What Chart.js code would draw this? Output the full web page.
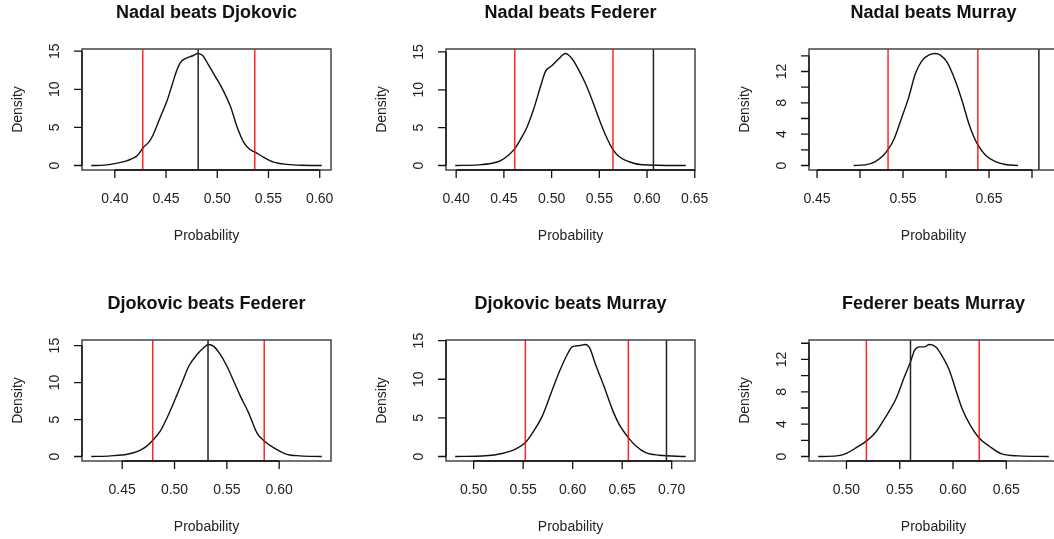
<!DOCTYPE html>
<html>
<head>
<meta charset="utf-8">
<script src="https://cdn.jsdelivr.net/npm/chart.js@4/dist/chart.umd.min.js"></script>
<style>
  html, body { margin: 0; padding: 0; background: #fff; }
  body { width: 1054px; height: 539px; overflow: hidden; position: relative; }
  .panel { position: absolute; width: 363px; height: 291px; }
</style>
</head>
<body>
<div id="grid"></div>
<script>
// Titles, one per matchup
const titles = [
  'Nadal beats Djokovic', 'Nadal beats Federer', 'Nadal beats Murray',
  'Djokovic beats Federer', 'Djokovic beats Murray', 'Federer beats Murray'
];

// Posterior density of the win probability, sampled along each curve
const nadalDjokovicX = [0.377, 0.390, 0.400, 0.410, 0.417, 0.422, 0.428, 0.434, 0.438, 0.4446, 0.451, 0.456, 0.460, 0.464, 0.470, 0.476, 0.481, 0.486, 0.491, 0.498, 0.506, 0.513, 0.519, 0.526, 0.532, 0.537, 0.545, 0.555, 0.568, 0.582, 0.602];
const nadalDjokovicY = [0, 0.05, 0.25, 0.55, 0.9, 1.3, 2.4, 3.2, 4.2, 6.4, 8.5, 10.6, 12.3, 13.5, 14.1, 14.4, 14.7, 14.4, 13.3, 11.7, 9.8, 7.7, 5.2, 3.0, 2.1, 1.75, 1.1, 0.45, 0.15, 0.03, 0];

const nadalFedererX = [0.399, 0.4235, 0.4375, 0.446, 0.455, 0.4613, 0.4672, 0.4743, 0.4813, 0.4883, 0.4935, 0.5005, 0.5075, 0.5145, 0.5215, 0.5285, 0.5356, 0.5426, 0.5496, 0.5566, 0.5643, 0.5706, 0.5811, 0.595, 0.6406];
const nadalFedererY = [0, 0.09, 0.3, 0.6, 1.4, 2.2, 3.4, 5.1, 7.5, 10.4, 12.4, 13.2, 14.1, 14.8, 14.1, 12.6, 10.8, 8.6, 6.2, 4.0, 2.1, 1.2, 0.5, 0.1, 0];

const nadalMurrayX = [0.4926, 0.5062, 0.5178, 0.5275, 0.5322, 0.5391, 0.5488, 0.5566, 0.5643, 0.5721, 0.5798, 0.5876, 0.5934, 0.6012, 0.6109, 0.6186, 0.6264, 0.6322, 0.6372, 0.6457, 0.6574, 0.669, 0.6837];
const nadalMurrayY = [0, 0.08, 0.5, 1.35, 2.0, 3.25, 6.2, 8.7, 11.7, 13.4, 14.1, 14.3, 14.1, 13.2, 10.8, 8.3, 5.4, 3.7, 2.6, 1.35, 0.5, 0.13, 0];

const djokovicFedererX = [0.4204, 0.4389, 0.4548, 0.4659, 0.4738, 0.4792, 0.4865, 0.4929, 0.4993, 0.5072, 0.5136, 0.5215, 0.5279, 0.5326, 0.5374, 0.5437, 0.5501, 0.5565, 0.5628, 0.5708, 0.5787, 0.5857, 0.5946, 0.6073, 0.620, 0.6407];
const djokovicFedererY = [0, 0.09, 0.3, 0.76, 1.44, 2.2, 3.46, 5.25, 7.3, 10.0, 12.2, 13.8, 14.7, 15.15, 14.9, 13.8, 12.2, 10.2, 8.2, 5.9, 3.2, 2.1, 1.2, 0.3, 0.09, 0];

const djokovicMurrayX = [0.4814, 0.5118, 0.5287, 0.5422, 0.5523, 0.5607, 0.5692, 0.5776, 0.586, 0.5945, 0.5995, 0.6063, 0.613, 0.6171, 0.6231, 0.6316, 0.640, 0.6468, 0.6562, 0.6636, 0.6738, 0.6872, 0.7142];
const djokovicMurrayY = [0, 0.09, 0.39, 0.95, 1.8, 3.3, 5.2, 8.0, 10.8, 13.2, 14.2, 14.35, 14.5, 14.05, 11.9, 9.1, 6.1, 4.2, 2.45, 1.4, 0.5, 0.17, 0];

const federerMurrayX = [0.4735, 0.4907, 0.500, 0.5093, 0.5187, 0.528, 0.5373, 0.5467, 0.5545, 0.5601, 0.5638, 0.5685, 0.5731, 0.5778, 0.584, 0.5903, 0.5965, 0.6027, 0.6089, 0.6167, 0.6245, 0.6338, 0.6463, 0.6618, 0.6899];
const federerMurrayY = [0, 0.08, 0.4, 1.1, 1.9, 3.1, 5.0, 7.2, 9.9, 11.7, 13.1, 13.55, 13.55, 13.85, 13.55, 12.3, 10.7, 8.2, 5.8, 3.75, 2.3, 1.3, 0.29, 0.08, 0];

const curvesX = [nadalDjokovicX, nadalFedererX, nadalMurrayX, djokovicFedererX, djokovicMurrayX, federerMurrayX];
const curvesY = [nadalDjokovicY, nadalFedererY, nadalMurrayY, djokovicFedererY, djokovicMurrayY, federerMurrayY];

// 95% interval (red) and observed share (black)
const lowerBound = [0.4273, 0.4614, 0.5326, 0.4792, 0.5522, 0.5187];
const upperBound = [0.5366, 0.5643, 0.6370, 0.5857, 0.6562, 0.6246];
const observed   = [0.4814, 0.6067, 0.7080, 0.5320, 0.6947, 0.5601];

// x limits before the usual 4% expansion
const xLimits = [[0.377, 0.602], [0.399, 0.6406], [0.4514, 0.7195], [0.4204, 0.6407], [0.4814, 0.7142], [0.4735, 0.6899]];

// axis ticks and the labels printed under them ('' = tick only)
const xTicks = [
  [0.40, 0.45, 0.50, 0.55, 0.60],
  [0.40, 0.45, 0.50, 0.55, 0.60, 0.65],
  [0.45, 0.50, 0.55, 0.60, 0.65, 0.70],
  [0.45, 0.50, 0.55, 0.60],
  [0.50, 0.55, 0.60, 0.65, 0.70],
  [0.50, 0.55, 0.60, 0.65]
];
const xTickLabels = [
  ['0.40', '0.45', '0.50', '0.55', '0.60'],
  ['0.40', '0.45', '0.50', '0.55', '0.60', '0.65'],
  ['0.45', '', '0.55', '', '0.65', ''],
  ['0.45', '0.50', '0.55', '0.60'],
  ['0.50', '0.55', '0.60', '0.65', '0.70'],
  ['0.50', '0.55', '0.60', '0.65']
];
const yTicksWide = [0, 5, 10, 15];
const yTicksNarrow = [0, 2, 4, 6, 8, 10, 12, 14];
const yTicks = [yTicksWide, yTicksWide, yTicksNarrow, yTicksWide, yTicksWide, yTicksNarrow];
const yTickLabelsWide = ['0', '5', '10', '15'];
const yTickLabelsNarrow = ['0', '', '4', '', '8', '', '12', ''];
const yTickLabels = [yTickLabelsWide, yTickLabelsWide, yTickLabelsNarrow, yTickLabelsWide, yTickLabelsWide, yTickLabelsNarrow];

const xTitle = 'Probability';
const yTitle = 'Density';

const FONT = '"Liberation Sans", Arial, Helvetica, sans-serif';

// base-graphics look: box, outward ticks, rotated y labels, titles
const rAxes = {
  id: 'rAxes',
  afterDraw(chart, args, opts) {
    const { ctx, chartArea: a, scales: { x, y } } = chart;
    const tick = 8;
    ctx.save();

    ctx.strokeStyle = '#444';
    ctx.lineWidth = 1.5;
    ctx.strokeRect(a.left, a.top, a.right - a.left, a.bottom - a.top);

    ctx.strokeStyle = '#111';
    ctx.lineWidth = 1.3;
    ctx.fillStyle = '#222';
    ctx.font = '14px ' + FONT;

    // bottom axis
    const xp = opts.xTicks.map(v => x.getPixelForValue(v));
    ctx.beginPath();
    ctx.moveTo(xp[0], a.bottom);
    ctx.lineTo(xp[xp.length - 1], a.bottom);
    xp.forEach(p => { ctx.moveTo(p, a.bottom); ctx.lineTo(p, a.bottom + tick); });
    ctx.stroke();
    ctx.textAlign = 'center';
    ctx.textBaseline = 'middle';
    xp.forEach((p, i) => { if (opts.xLabels[i]) ctx.fillText(opts.xLabels[i], p, a.bottom + 29); });
    ctx.fillText(xTitle, (a.left + a.right) / 2, a.bottom + 66);

    // left axis
    const yp = opts.yTicks.map(v => y.getPixelForValue(v));
    ctx.beginPath();
    ctx.moveTo(a.left, yp[0]);
    ctx.lineTo(a.left, yp[yp.length - 1]);
    yp.forEach(p => { ctx.moveTo(a.left, p); ctx.lineTo(a.left - tick, p); });
    ctx.stroke();
    yp.forEach((p, i) => {
      if (!opts.yLabels[i]) return;
      ctx.save();
      ctx.translate(a.left - 27, p);
      ctx.rotate(-Math.PI / 2);
      ctx.fillText(opts.yLabels[i], 0, 0);
      ctx.restore();
    });
    ctx.save();
    ctx.translate(a.left - 64, (a.top + a.bottom) / 2);
    ctx.rotate(-Math.PI / 2);
    ctx.fillText(yTitle, 0, 0);
    ctx.restore();

    // main title
    ctx.fillStyle = '#111';
    ctx.font = 'bold 18px ' + FONT;
    ctx.fillText(opts.title, (a.left + a.right) / 2, 13);

    ctx.restore();
  }
};

function vline(v, lo, hi, color) {
  return {
    data: [{ x: v, y: lo }, { x: v, y: hi }],
    borderColor: color,
    borderWidth: 1.5,
    pointRadius: 0
  };
}

const grid = document.getElementById('grid');
titles.forEach((title, i) => {
  const col = i % 3, row = Math.floor(i / 3);
  const box = document.createElement('div');
  box.className = 'panel';
  box.style.left = Math.round(col * 363.5) + 'px';
  box.style.top = (row * 291) + 'px';
  const canvas = document.createElement('canvas');
  canvas.width = 363;
  canvas.height = 291;
  box.appendChild(canvas);
  grid.appendChild(box);

  const xs = curvesX[i], ys = curvesY[i];
  const [x0, x1] = xLimits[i];
  const dx = (x1 - x0) * 0.04;
  const peak = Math.max(...ys);
  const yMin = -peak * 0.04, yMax = peak * 1.04;

  new Chart(canvas.getContext('2d'), {
    type: 'line',
    data: {
      datasets: [
        vline(observed[i], yMin, yMax, '#222'),
        vline(lowerBound[i], yMin, yMax, 'rgba(255,0,0,0.85)'),
        vline(upperBound[i], yMin, yMax, 'rgba(255,0,0,0.85)'),
        {
          data: xs.map((v, k) => ({ x: v, y: ys[k] })),
          borderColor: '#111',
          borderWidth: 1.4,
          pointRadius: 0,
          cubicInterpolationMode: 'monotone'
        }
      ]
    },
    options: {
      responsive: false,
      animation: false,
      layout: { padding: { left: 82, top: 49, right: 32, bottom: 121 } },
      scales: {
        x: { type: 'linear', min: x0 - dx, max: x1 + dx, display: false },
        y: { type: 'linear', min: yMin, max: yMax, display: false }
      },
      plugins: {
        legend: { display: false },
        tooltip: { enabled: false },
        rAxes: {
          title: title,
          xTicks: xTicks[i], xLabels: xTickLabels[i],
          yTicks: yTicks[i], yLabels: yTickLabels[i]
        }
      }
    },
    plugins: [rAxes]
  });
});
</script>
</body>
</html>
